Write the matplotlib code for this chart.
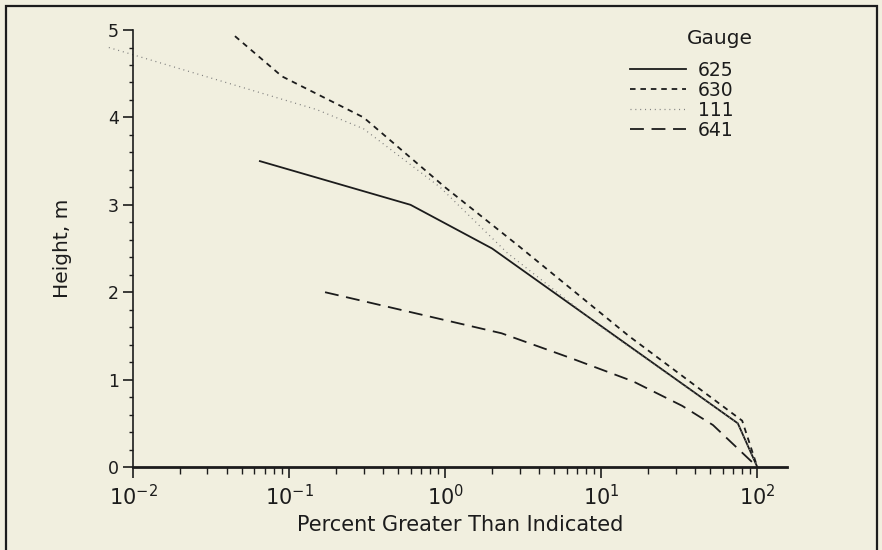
import matplotlib
matplotlib.use("Agg")
import matplotlib.pyplot as plt
from matplotlib.patches import Rectangle
from matplotlib.ticker import LogLocator, MultipleLocator, NullFormatter

plt.rcParams['font.family'] = 'DejaVu Sans'
plt.rcParams['lines.scale_dashes'] = False

# exceedance curves per gauge: percent greater than indicated vs. height (m)
g625_pct = [0.065, 0.6, 2.0, 75, 100]
g625_h = [3.5, 3.0, 2.5, 0.5, 0.0]

g630_pct = [0.045, 0.09, 0.3, 1.0, 3.0, 15, 80, 100]
g630_h = [4.93, 4.47, 4.0, 3.2, 2.52, 1.5, 0.53, 0.0]

g111_pct = [0.007, 0.15, 0.3, 0.93, 2.5, 10, 75, 100]
g111_h = [4.8, 4.09, 3.87, 3.2, 2.45, 1.6, 0.5, 0.0]

g641_pct = [0.17, 2.3, 6.3, 16, 33, 52, 100]
g641_h = [2.0, 1.53, 1.25, 0.98, 0.7, 0.48, 0.0]

bg = '#F1EFDF'
ink = '#1c1c1c'

fig = plt.figure(figsize=(8.82, 5.5), dpi=100, facecolor=bg)
ax = fig.add_axes([0.1508, 0.1509, 0.7415, 0.7945])
ax.set_facecolor(bg)

ax.plot(g625_pct, g625_h, color=ink, lw=1.3, label='625')
ax.plot(g630_pct, g630_h, color=ink, lw=1.3, dashes=(4, 3.5), label='630')
ax.plot(g111_pct, g111_h, color='#7a7a7a', lw=0.9, dashes=(0.7, 2.8),
        label='111', clip_on=False)
ax.plot(g641_pct, g641_h, color=ink, lw=1.3, dashes=(10, 5.5), label='641')

ax.set_xscale('log')
ax.set_xlim(0.01, 155)
ax.set_ylim(0, 5)

# axes: only left and bottom lines
for side in ['top', 'right']:
    ax.spines[side].set_visible(False)
ax.spines['left'].set_linewidth(1.2)
ax.spines['bottom'].set_linewidth(2.0)
ax.spines['left'].set_color(ink)
ax.spines['bottom'].set_color(ink)

ax.yaxis.set_major_locator(MultipleLocator(1))
ax.yaxis.set_minor_locator(MultipleLocator(0.2))
ax.xaxis.set_major_locator(LogLocator(base=10, numticks=10))
ax.xaxis.set_minor_locator(LogLocator(base=10, subs=range(2, 10), numticks=30))
ax.xaxis.set_minor_formatter(NullFormatter())

ax.tick_params(axis='y', which='major', direction='out', length=7, width=1.2,
               labelsize=12.5, pad=3, colors=ink)
ax.tick_params(axis='y', which='minor', direction='out', length=3, width=1.0, colors=ink)
ax.tick_params(axis='x', which='major', direction='out', length=8, width=1.2,
               labelsize=15, pad=4, colors=ink)
ax.tick_params(axis='x', which='minor', direction='out', length=5, width=1.0, colors=ink)

ax.set_xlabel('Percent Greater Than Indicated', fontsize=15, color=ink)
ax.set_ylabel('Height, m', fontsize=14.5, color=ink)
ax.xaxis.set_label_coords(0.5, -0.11)
ax.yaxis.set_label_coords(-0.093, 0.5)

leg = ax.legend(loc='upper left', bbox_to_anchor=(630 / 882, 1 - 61 / 550),
                bbox_transform=fig.transFigure, frameon=False, fontsize=13.5,
                handlelength=3.0, handletextpad=0.6, labelspacing=0.05,
                borderpad=0, borderaxespad=0)
for t in leg.get_texts():
    t.set_color(ink)
fig.text(687 / 882, 1 - 38 / 550, 'Gauge', fontsize=14.5, color=ink,
         ha='left', va='center')

# outer frame round the whole figure
fig.add_artist(Rectangle((5.5 / 882, -0.1), (877 - 5.5) / 882, 1.089,
                         transform=fig.transFigure, fill=False, lw=1.6, ec=ink))

fig.savefig('out.png', dpi=100, facecolor=bg)
